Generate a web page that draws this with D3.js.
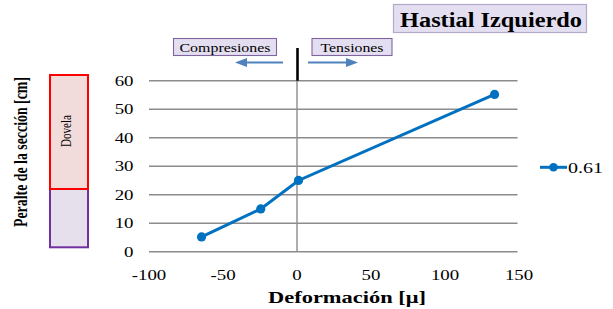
<!DOCTYPE html>
<html><head><meta charset="utf-8">
<script src="https://cdn.jsdelivr.net/npm/d3@7"></script>
<style>body{margin:0;background:#fff}svg{display:block}</style>
</head><body><svg id="c" width="613" height="309"></svg>
<script>
const deformacion = [-64.5, -24.5, 1, 133.5];
const peralte = [5.2, 15, 25, 55.2];
const seriesName = "0.61";
const xTicks = [-100, -50, 0, 50, 100, 150];
const yTicks = [0, 10, 20, 30, 40, 50, 60];
const dovelaRange = [22, 65];
const lowerRange = [0, 22];

const FONT = "'Liberation Serif', 'Times New Roman', serif";
const SX = 1.3; // horizontal stretch seen in the reference
const svg = d3.select("#c");
const x = d3.scaleLinear().domain([-100, 150]).range([149, 519]);
const y = d3.scaleLinear().domain([0, 60]).range([251.7, 80.7]);

function txt(parent, px, py, s, opt) {
  opt = opt || {};
  const t = parent.append("text")
    .attr("transform", `translate(${px},${py})` + (opt.rot ? " rotate(-90) scale(1," + SX + ")" : " scale(" + (opt.sx || SX) + ",1)"))
    .attr("text-anchor", opt.anchor || "middle")
    .attr("font-size", opt.size || 15)
    .attr("font-weight", opt.bold ? "bold" : "normal")
    .style("font-family", FONT)
    .attr("fill", "#000")
    .text(s);
  if (opt.len) t.attr("textLength", opt.len / (opt.rot ? 1 : (opt.sx || SX))).attr("lengthAdjust", "spacingAndGlyphs");
  return t;
}

// title
svg.append("rect").attr("x",393.5).attr("y",4.5).attr("width",193).attr("height",28).attr("fill","#e4dff0").attr("stroke","#b4aac8").attr("stroke-width",1.2);
txt(svg, 491, 27, "Hastial Izquierdo", {size: 20.5, bold: true, len: 182});

// grid
svg.append("g").selectAll("line").data(yTicks).join("line")
  .attr("x1",x(-100)).attr("x2",x(150)-1.5).attr("y1",d=>y(d)).attr("y2",d=>y(d)).attr("stroke","#8c8c8c").attr("stroke-width",1.4);
svg.append("line").attr("x1",x(0)).attr("x2",x(0)).attr("y1",y(60)).attr("y2",y(0)).attr("stroke","#8c8c8c").attr("stroke-width",1.4);
svg.append("line").attr("x1",x(0)+0.5).attr("x2",x(0)+0.5).attr("y1",48).attr("y2",y(60)).attr("stroke","#000").attr("stroke-width",2.6);

// tick labels
const gy = svg.append("g");
yTicks.forEach(d => txt(gy, 133.5, y(d)+5, d, {anchor: "end", size: 14.5}));
const gx = svg.append("g");
xTicks.forEach(d => txt(gx, x(d), 280, d, {size: 14.5}));

// axis titles
txt(svg, 347, 302.5, "Deformación [μ]", {size: 16, bold: true, len: 158});
txt(svg, 27, 152, "Peralte de la sección [cm]", {size: 14.5, bold: true, rot: true, len: 150});

// section rects
const ys = d3.scaleLinear().domain([0, 65]).range([247.3, 75]);
svg.append("rect").attr("x",50).attr("y",ys(lowerRange[1])).attr("width",38).attr("height",ys(lowerRange[0])-ys(lowerRange[1])).attr("fill","#e6e0ec").attr("stroke","#7030a0").attr("stroke-width",2);
svg.append("rect").attr("x",50).attr("y",ys(dovelaRange[1])).attr("width",38).attr("height",ys(dovelaRange[0])-ys(dovelaRange[1])).attr("fill","#f2dcdb").attr("stroke","#ff0000").attr("stroke-width",2);
txt(svg, 70.5, 131, "Dovela", {size: 10.5, rot: true, len: 32});

// annotation boxes
function box(x0,y0,w,h,t,tw){
  svg.append("rect").attr("x",x0+.5).attr("y",y0+.5).attr("width",w).attr("height",h).attr("fill","#e4dff0").attr("stroke","#8064a2").attr("stroke-width",1.1);
  txt(svg, x0+w/2+.5, y0+13.5, t, {size: 12.5, len: tw});
}
box(173,38,103,17,"Compresiones",91);
box(311.5,38,80,17,"Tensiones",63);

function arrow(x1, x2, yy) {
  const dir = Math.sign(x2 - x1), hl = 12, hw = 4.5;
  svg.append("line").attr("x1",x1).attr("x2",x2 - dir*hl).attr("y1",yy).attr("y2",yy).attr("stroke","#4f81bd").attr("stroke-width",2.2);
  svg.append("path").attr("d",`M${x2},${yy}L${x2-dir*hl},${yy-hw}L${x2-dir*hl},${yy+hw}Z`).attr("fill","#4f81bd");
}
arrow(283, 235, 62.5);
arrow(308, 358, 62.5);

// series
const pts = deformacion.map((d,i)=>[d, peralte[i]]);
svg.append("path").datum(pts).attr("d", d3.line().x(d=>x(d[0])).y(d=>y(d[1]))).attr("fill","none").attr("stroke","#0070c0").attr("stroke-width",3);
svg.append("g").selectAll("circle").data(pts).join("circle").attr("cx",d=>x(d[0])).attr("cy",d=>y(d[1])).attr("r",4.6).attr("fill","#0070c0");

// legend
svg.append("line").attr("x1",540).attr("x2",567).attr("y1",167.3).attr("y2",167.3).attr("stroke","#0070c0").attr("stroke-width",3);
svg.append("circle").attr("cx",553.5).attr("cy",167.3).attr("r",4.3).attr("fill","#0070c0");
txt(svg, 568, 172.5, seriesName, {anchor: "start", size: 14.5, len: 35});
</script></body></html>
